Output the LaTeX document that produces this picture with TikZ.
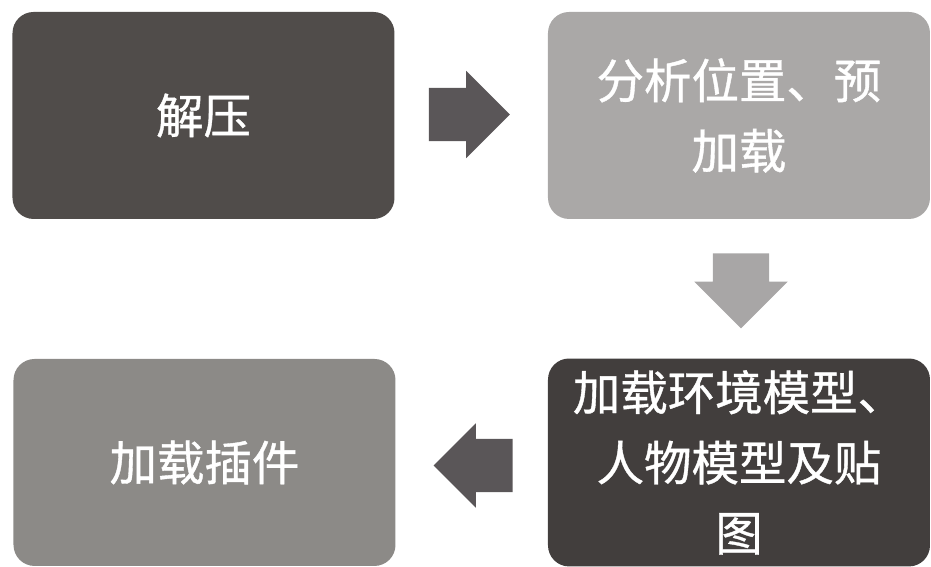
\documentclass[tikz,border=0pt]{standalone}
\usepackage{fontspec}
\newfontfamily\cjk[FakeBold=0.8]{Noto Sans CJK SC}
\usetikzlibrary{shapes.arrows,calc}

\definecolor{stagedark}{RGB}{80,76,74}
\definecolor{stagelight}{RGB}{170,168,167}
\definecolor{stagedeep}{RGB}{66,62,61}
\definecolor{stagemid}{RGB}{140,138,135}
\definecolor{arrowdark}{RGB}{90,86,88}
\definecolor{arrowlight}{RGB}{168,166,166}

\begin{document}
\begin{tikzpicture}[
    font=\cjk\fontsize{13.5}{20}\selectfont,
    stage/.style={rounded corners=6pt, text=white, align=center, minimum width=3.82cm, minimum height=2.07cm},
    blockarrow/.style={single arrow, anchor=tail, single arrow head extend=0.17cm, inner xsep=0pt, inner ysep=0.26cm, minimum height=0.81cm}
]

\useasboundingbox (0,0) rectangle (9.31,5.67);

\node[stage, fill=stagedark] (unzip) at (2.035,4.515) {解压};

\node[stage, fill=stagelight] (preload) at (7.39,4.515)
{分析位置、预\\加载};

\node[stage, fill=stagedeep] (models) at (7.39,1.045)
{加载环境模型、\\人物模型及贴\\图};

\node[stage, fill=stagemid] (plugins) at (2.045,1.045) {加载插件};

% block arrows between the stages
\node[blockarrow, fill=arrowdark] (go1) at ($(unzip.east)+(0.33,0.01)$) {};
\node[blockarrow, fill=arrowlight, rotate=-90, inner ysep=0.275cm, minimum height=0.75cm,
      single arrow head extend=0.185cm] (go2) at ($(preload.south)+(0.02,-0.33)$) {};
\node[blockarrow, fill=arrowdark, rotate=180, minimum height=0.79cm,
      single arrow head extend=0.155cm] (go3) at ($(models.west)+(-0.34,-0.03)$) {};

\end{tikzpicture}
\end{document}
